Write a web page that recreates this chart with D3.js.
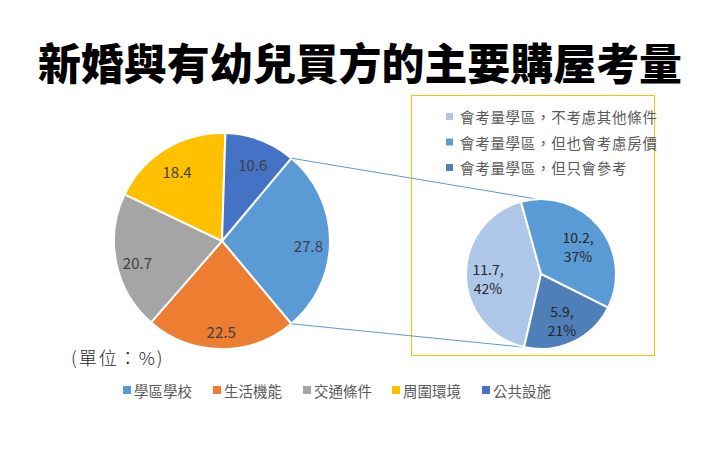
<!DOCTYPE html>
<html><head><meta charset="utf-8">
<script src="https://cdn.jsdelivr.net/npm/d3@7"></script>
<style>
html,body{margin:0;padding:0;background:#fff;}
text{font-family:"Noto Sans CJK TC","Noto Sans CJK SC",sans-serif;}
</style></head>
<body>
<svg id="c" width="720" height="450"></svg>
<script>
const title = "新婚與有幼兒買方的主要購屋考量";
const unitLabel = "(單位：%)";
const mainCategories = ["學區學校","生活機能","交通條件","周圍環境","公共設施"];
const mainValues = [27.8, 22.5, 20.7, 18.4, 10.6];
const mainColors = ["#5B9BD5","#ED7D31","#A5A5A5","#FFC000","#4472C4"];
const subCategories = ["會考量學區，不考慮其他條件","會考量學區，但也會考慮房價","會考量學區，但只會參考"];
const subValues = [11.7, 10.2, 5.9];
const subPercents = ["42%","37%","21%"];
const subColors = ["#AEC6E8","#5B9BD5","#4E7FB8"];

const svg = d3.select("#c");
const deg = Math.PI/180;

svg.append("text").attr("x",360).attr("y",61).attr("text-anchor","middle")
  .attr("dominant-baseline","central").attr("font-size",43).attr("font-weight",900)
  .attr("textLength",644).attr("lengthAdjust","spacingAndGlyphs")
  .attr("fill","#000").text(title);

// main pie
const cx1 = 222, cy1 = 241, r1 = 108;
const total = d3.sum(mainValues);
const split = mainValues[0]/total*360;
const start1 = (90 - split/2)*deg;
const pie1 = d3.pie().sort(null).startAngle(start1).endAngle(start1 + 2*Math.PI);
const arcs1 = pie1(mainValues);
const arc1 = d3.arc().innerRadius(0).outerRadius(r1);
const g1 = svg.append("g").attr("transform",`translate(${cx1},${cy1})`);
g1.selectAll("path").data(arcs1).join("path").attr("d",arc1)
  .attr("fill",(d,i)=>mainColors[i]).attr("stroke","#fff").attr("stroke-width",2);
const labelArc1 = d3.arc().innerRadius(r1*0.8).outerRadius(r1*0.8);
g1.selectAll("text.v").data(arcs1).join("text").attr("class","v")
  .attr("transform",d=>{const c = labelArc1.centroid(d); return `translate(${c[0]},${c[1]+4})`;})
  .attr("text-anchor","middle").attr("dominant-baseline","central")
  .attr("font-size",15).attr("fill","#404040").text(d=>d.data.toFixed(1));

// sub pie
const cx2 = 541, cy2 = 274, r2 = 75;
const start2 = 193*deg;
const pie2 = d3.pie().sort(null).startAngle(start2).endAngle(start2 + 2*Math.PI);
const arcs2 = pie2(subValues);
const arc2 = d3.arc().innerRadius(0).outerRadius(r2);

// plot-area box
svg.append("rect").attr("x",411.5).attr("y",95.5).attr("width",243).attr("height",260)
  .attr("fill","none").attr("stroke","#FFC000").attr("stroke-width",1);

// connector lines
const a0 = arcs1[0].startAngle, a1 = arcs1[0].endAngle;
const pTop1 = [cx1 + r1*Math.sin(a0), cy1 - r1*Math.cos(a0)];
const pBot1 = [cx1 + r1*Math.sin(a1), cy1 - r1*Math.cos(a1)];
const t2 = -3*deg, b2 = 192*deg;
const pTop2 = [cx2 + r2*Math.sin(t2), cy2 - r2*Math.cos(t2)];
const pBot2 = [cx2 + r2*Math.sin(b2), cy2 - r2*Math.cos(b2)];
svg.append("line").attr("x1",pTop1[0]).attr("y1",pTop1[1]).attr("x2",pTop2[0]).attr("y2",pTop2[1])
  .attr("stroke","#5B9BD5").attr("stroke-width",1);
svg.append("line").attr("x1",pBot1[0]).attr("y1",pBot1[1]).attr("x2",pBot2[0]).attr("y2",pBot2[1])
  .attr("stroke","#5B9BD5").attr("stroke-width",1);

const g2 = svg.append("g").attr("transform",`translate(${cx2},${cy2})`);
g2.selectAll("path").data(arcs2).join("path").attr("d",arc2)
  .attr("fill",(d,i)=>subColors[i]).attr("stroke","#fff").attr("stroke-width",2);
const subLabelPos = [[-53,4],[37,-28],[21,46]];
const lg = g2.selectAll("g.l").data(arcs2).join("g").attr("class","l")
  .attr("transform",(d,i)=>`translate(${subLabelPos[i]})`);
lg.append("text").attr("text-anchor","middle").attr("y",-9).attr("dominant-baseline","central")
  .attr("font-size",14).attr("fill","#262626").text(d=>d.data.toFixed(1)+",");
lg.append("text").attr("text-anchor","middle").attr("y",10).attr("dominant-baseline","central")
  .attr("font-size",14).attr("fill","#262626").text((d,i)=>subPercents[i]);

// sub legend
const sl = svg.append("g");
subCategories.forEach((c,i)=>{
  const y = 116.5 + i*25.5;
  sl.append("rect").attr("x",446).attr("y",y-3.5).attr("width",7).attr("height",7).attr("fill",subColors[i]);
  sl.append("text").attr("x",460).attr("y",y).attr("dominant-baseline","central")
    .attr("font-size",14.5).attr("letter-spacing",0.7).attr("fill","#595959").text(c);
});

// unit label
svg.append("text").attr("x",71).attr("y",357).attr("dominant-baseline","central")
  .attr("font-size",18).attr("letter-spacing",2).attr("font-weight",300).attr("fill","#262626").text(unitLabel);

// main legend
const legX = [123,213,303,392,482];
mainCategories.forEach((c,i)=>{
  svg.append("rect").attr("x",legX[i]).attr("y",386).attr("width",8).attr("height",8).attr("fill",mainColors[i]);
  svg.append("text").attr("x",legX[i]+11).attr("y",390).attr("dominant-baseline","central")
    .attr("font-size",14.5).attr("fill","#595959").text(c);
});
</script>
</body></html>
